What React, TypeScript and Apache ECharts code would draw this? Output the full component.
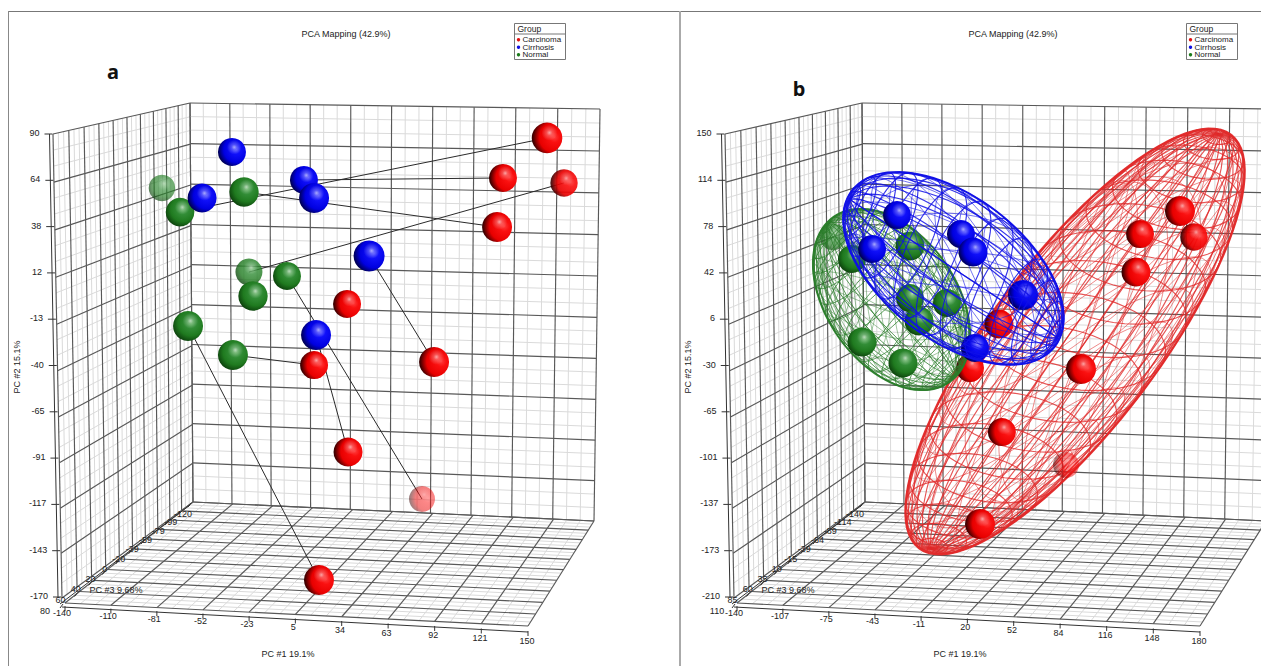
import React, { useEffect, useRef } from "react";
import * as echarts from "echarts";

// ---------- tick labels ----------
const TICKS_A = {
  pc1: ["-140", "-110", "-81", "-52", "-23", "5", "34", "63", "92", "121", "150"],
  pc2: ["90", "64", "38", "12", "-13", "-40", "-65", "-91", "-117", "-143", "-170"],
  pc3: ["80", "60", "40", "20", "0", "-20", "-39", "-59", "-79", "-99", "-120"],
};
const TICKS_B = {
  pc1: ["-140", "-107", "-75", "-43", "-11", "20", "52", "84", "116", "148", "180"],
  pc2: ["150", "114", "78", "42", "6", "-30", "-65", "-101", "-137", "-173", "-210"],
  pc3: ["110", "85", "60", "35", "10", "-15", "-39", "-64", "-89", "-114", "-140"],
};
const TITLE = "PCA Mapping (42.9%)";
const GROUPS = ["Carcinoma", "Cirrhosis", "Normal"];

// ---------- samples, panel a: [PC1, PC2, PC3] ----------
const A_BLUE = [[-110.1, 60.5, -40], [-58.8, 42.5, -40], [-51.6, 30.9, 40], [-131.4, 30.9, 0], [-12.4, -6.3, 80], [-50.2, -57.0, 40]];
const A_GREEN = [[-160.0, 37.4, -100], [-147.1, 21.9, -15], [-101.5, 34.8, 15], [-98.0, -16.6, -80], [-70.9, -19.1, -40], [-95.1, -32.0, 15], [-141.4, -51.2, 40], [-109.4, -69.9, 40]];
const A_RED = [[114.4, 69.5, 65], [83.0, 43.8, -40], [126.5, 40.6, -65], [78.8, 12.3, 40], [-28.1, -37.1, -40], [33.9, -74.4, 40], [-51.6, -76.3, -40], [-27.4, -132.1, 0], [25.3, -162.3, -120], [-48.1, -214.3, 40]];
// links between samples: [from, to]
const A_LINKS = [
  [A_GREEN[1], A_RED[0]], [A_BLUE[1], A_RED[1]], [A_GREEN[2], A_RED[3]], [A_GREEN[3], A_RED[2]],
  [A_GREEN[4], A_RED[8]], [A_BLUE[4], A_RED[5]], [A_GREEN[7], A_RED[6]], [A_BLUE[5], A_RED[7]], [A_GREEN[6], A_RED[9]],
];

// ---------- samples, panel b ----------
const B_RED = [[110, 56.7, 60], [78.6, 36.2, -40], [121, 33.6, -65], [75.4, 2.4, 10], [-32.3, -43.8, 10], [32.2, -83.8, 60], [-55.1, -82.9, -40], [-30, -139.8, -40], [20.4, -169.1, -140], [-47.2, -221.6, 60]];
const B_GREEN_BACK = [[-162.8, 33.6, -115]];
const B_GREEN_MID = [[-147.9, 14, -40], [-102.3, 25.6, 10], [-140, -59.8, 10], [-107.8, -78.4, 10]];
const B_GREEN_UNDER = [[-102.3, -20.7, -40], [-73.2, -25.1, -40], [-95.2, -41.1, 10]];
const B_BLUE_UNDER = [[-13.4, -18, 60], [-51.2, -65.1, -40]];
const B_BLUE_TOP = [[-112.5, 53.1, -40], [-62.2, 36.2, -40], [-52.7, 20.2, 10], [-132.1, 22.9, -40]];

// ellipsoid centres [PC1, PC2]
const RED_CENTRE = [27.5, -59.3];
const GREEN_CENTRE = [-116.8, -22];
const BLUE_CENTRE = [-68.1, 5.6];

// ---------- layout ----------
const W = 1261, H = 666, DX = 672;
type P = [number, number];
const GRID = { top: 106, width: 407, height: 405 };
const LEFT_A = 190;
const WALL_LEFT: P[] = [[53, 134], [190, 103], [193, 502], [62, 598]];
const WALL_BACK: P[] = [[190, 103], [600, 109], [594, 521], [193, 502]];
const FLOOR: P[] = [[193, 502], [594, 521], [528, 626], [65, 603]];

function homography(q: P[]) {
  const [[x0, y0], [x1, y1], [x2, y2], [x3, y3]] = q;
  const dx1 = x1 - x2, dx2 = x3 - x2, sx = x0 - x1 + x2 - x3;
  const dy1 = y1 - y2, dy2 = y3 - y2, sy = y0 - y1 + y2 - y3;
  const den = dx1 * dy2 - dx2 * dy1;
  const g = (sx * dy2 - dx2 * sy) / den, h = (dx1 * sy - sx * dy1) / den;
  const a = x1 - x0 + g * x1, b = x3 - x0 + h * x3, d = y1 - y0 + g * y1, e = y3 - y0 + h * y3;
  return (s: number, t: number): P => {
    const w = g * s + h * t + 1;
    return [(a * s + b * t + x0) / w, (d * s + e * t + y0) / w];
  };
}

const lerp = (a: number, b: number, t: number) => a + (b - a) * t;
const FONT = "'Liberation Sans', Arial, sans-serif";
const INK = "#222";

function line(a: P, b: P, stroke: string, lineWidth = 1, off = 0) {
  return { type: "line", silent: true, shape: { x1: a[0] + off, y1: a[1], x2: b[0] + off, y2: b[1] }, style: { stroke, lineWidth } };
}
function label(text: string, x: number, y: number, align = "center", size = 9, extra: any = {}) {
  return {
    type: "text", silent: true, x, y, ...extra,
    style: { text, fontSize: size, fontFamily: FONT, fill: INK, align, verticalAlign: "middle" },
  };
}

function wall(q: P[], off: number) {
  const map = homography(q);
  const minor: any[] = [], major: any[] = [];
  for (let i = 0; i <= 30; i++) {
    const u = i / 30;
    const isMajor = i % 3 === 0;
    const bag = isMajor ? major : minor;
    const col = isMajor ? "#585858" : "#dadada";
    const w = isMajor ? 1.15 : 1;
    bag.push(line(map(u, 0), map(u, 1), col, w, off));
    bag.push(line(map(0, u), map(1, u), col, w, off));
  }
  return [...minor, ...major];
}

function panelFrame(t: typeof TICKS_A, off: number, letter: string, lx: number, ly: number) {
  const els: any[] = [];
  els.push(...wall(WALL_LEFT, off), ...wall(WALL_BACK, off), ...wall(FLOOR, off));
  const floor = homography(FLOOR);
  // PC#2 axis
  const yTop: P = [49.5, 134], yBot: P = [58, 597];
  els.push(line(yTop, yBot, "#333", 1, off));
  t.pc2.forEach((s, i) => {
    const u = i / 10;
    const x = lerp(yTop[0], yBot[0], u), y = lerp(yTop[1], yBot[1], u);
    els.push(line([x - 5, y], [x + 3, y], "#333", 1, off));
    els.push(label(s, x - 10 + off, y - 1, "right"));
  });
  // PC#1 axis
  els.push(line([62, 607], [528, 632], "#333", 1, off));
  t.pc1.forEach((s, i) => {
    const u = i / 10;
    const p = floor(u, 1);
    const ay = lerp(607, 632, (p[0] - 62) / 466);
    els.push(line([p[0], ay - 1], [p[0], ay + 4], "#333", 1, off));
    els.push(label(s, p[0] + lerp(-3, -1, u) + off, p[1] + lerp(10, 15, u)));
  });
  // PC#3 axis
  els.push(line([60, 604], [190, 505], "#333", 1, off));
  t.pc3.forEach((s, i) => {
    const u = i / 10;
    const p = floor(0, 1 - u);
    const a: P = [p[0] - 2, p[1] + 1];
    els.push(line(a, [a[0] - 3, a[1] + 4], "#333", 1, off));
    els.push(label(s, p[0] + lerp(-20, -10, u) + off, p[1] + lerp(8, 12, u)));
  });
  // axis titles
  els.push(label("PC #1 19.1%", 288 + off, 654));
  els.push(label("PC #3 9.68%", 116 + off, 590));
  els.push(label("PC #2 15.1%", 17 + off - (off ? 1 : 0), 367, "center", 9, { rotation: Math.PI / 2 }));
  els.push(label(TITLE, 346 + off - (off ? 5 : 0), 34));
  els.push({
    type: "text", silent: true, x: lx, y: ly,
    style: { text: letter, fontSize: 20, fontWeight: "bold", fontFamily: "'Noto Sans', sans-serif", fill: "#111", align: "center", verticalAlign: "middle" },
  });
  // legend
  const bx = 514.5 + off;
  els.push({ type: "rect", silent: true, shape: { x: bx, y: 23.5, width: 51, height: 36 }, style: { fill: "#fff", stroke: "#777", lineWidth: 1 } });
  els.push(line([bx, 34], [bx + 51, 34], "#777"));
  els.push(label("Group", bx + 3, 28.5, "left", 8.5));
  ["#e01010", "#1010e0", "#1a7a1a"].forEach((c, i) => {
    const y = 39.8 + i * 7.5;
    els.push({ type: "circle", silent: true, shape: { cx: bx + 4, cy: y, r: 1.7 }, style: { fill: c } });
    els.push(label(GROUPS[i], bx + 8, y, "left", 8));
  });
  return els;
}

// ---------- spheres ----------
const STOPS: Record<string, string[]> = {
  red: ["#ff3a3a", "#fa1010", "#e80000", "#4a0000", "#050000"],
  blue: ["#3a3aff", "#1010fa", "#0000e0", "#000060", "#000020"],
  green: ["#4fa64f", "#35903a", "#1f7a1f", "#0f4a0f", "#052205"],
};
const SHAPE: Record<string, number[]> = {
  red: [0.74, 0.48, 0.84],
  blue: [0.66, 0.42, 0.78],
  green: [0.6, 0.4, 0.74],
};
function ball(hue: string) {
  const c = STOPS[hue], s = SHAPE[hue];
  return {
    type: "radial", x: s[0], y: s[1], r: s[2],
    colorStops: [
      { offset: 0, color: c[0] }, { offset: 0.2, color: c[1] }, { offset: 0.58, color: c[2] },
      { offset: 0.82, color: c[3] }, { offset: 1, color: c[4] },
    ],
  };
}
const SHEEN = {
  type: "radial", x: 0.58, y: 0.33, r: 0.26,
  colorStops: [
    { offset: 0, color: "rgba(255,255,255,0.62)" },
    { offset: 0.35, color: "rgba(255,255,255,0.28)" },
    { offset: 1, color: "rgba(255,255,255,0)" },
  ],
};
function spheres(points: number[][], hue: string, panel: number, range: [number, number], z: number) {
  const make = () => points.map((p) => {
    const f = (p[2] - range[0]) / (range[1] - range[0]);
    return {
      value: [p[0], p[1]],
      symbolSize: 2 * (13 + 2.5 * f),
      itemStyle: { opacity: Math.min(1, 0.5 + 1.5 * f) },
    };
  });
  const common = { type: "scatter", xAxisIndex: panel, yAxisIndex: panel, z, clip: false, silent: true };
  return [
    { ...common, itemStyle: { color: ball(hue), borderWidth: 0 }, data: make() },
    { ...common, itemStyle: { color: SHEEN, borderWidth: 0 }, data: make() },
  ];
}

// ---------- wireframes ----------
function cross(a: number[], b: number[]) {
  return [a[1] * b[2] - a[2] * b[1], a[2] * b[0] - a[0] * b[2], a[0] * b[1] - a[1] * b[0]];
}
function norm(a: number[]) {
  const l = Math.hypot(a[0], a[1], a[2]);
  return a.map((v) => v / l);
}
function sphereFamily(pole: number[], parallels: number, meridians: number) {
  const p = norm(pole);
  const e1 = norm(cross(p, Math.abs(p[2]) < 0.9 ? [0, 0, 1] : [0, 1, 0]));
  const e2 = cross(p, e1);
  const pt = (phi: number, lam: number) => {
    const s = Math.sin(phi), c = Math.cos(phi), cl = Math.cos(lam), sl = Math.sin(lam);
    return [s * cl * e1[0] + s * sl * e2[0] + c * p[0], s * cl * e1[1] + s * sl * e2[1] + c * p[1]];
  };
  const out: number[][][] = [];
  for (let i = 1; i < parallels; i++) {
    const phi = (Math.PI * i) / parallels, pts: number[][] = [];
    for (let k = 0; k <= 48; k++) pts.push(pt(phi, (2 * Math.PI * k) / 48));
    out.push(pts);
  }
  for (let j = 0; j < meridians; j++) {
    const lam = (2 * Math.PI * j) / meridians, pts: number[][] = [];
    for (let k = 0; k <= 32; k++) pts.push(pt((Math.PI * k) / 32, lam));
    out.push(pts);
  }
  return out;
}
function wire(centre: number[], a: number, b: number, deg: number, color: string, z: number, lw: number, alpha: number, par: number, mer: number, rimW: number) {
  const th = (deg * Math.PI) / 180, c = Math.cos(th), s = Math.sin(th);
  const primary = sphereFamily([0.97, 0.12, 0.2], par, mer);
  const secondary = sphereFamily([0.62, 0.62, 0.48], par, Math.round(mer * 0.7));
  return {
    type: "custom", xAxisIndex: 1, yAxisIndex: 1, z, silent: true, clip: false,
    data: [centre],
    renderItem: (_: any, api: any) => {
      const o = api.coord([api.value(0), api.value(1)]);
      const map = (u: number[]) => {
        const x = a * u[0], y = b * u[1];
        return [o[0] + x * c - y * s, o[1] - (x * s + y * c)];
      };
      const children: any[] = [];
      primary.forEach((pts) => children.push({
        type: "polyline", silent: true, shape: { points: pts.map(map) },
        style: { stroke: color, lineWidth: lw, opacity: alpha, fill: "none" },
      }));
      secondary.forEach((pts) => children.push({
        type: "polyline", silent: true, shape: { points: pts.map(map) },
        style: { stroke: color, lineWidth: lw * 0.85, opacity: alpha * 0.7, fill: "none" },
      }));
      const rim: number[][] = [];
      for (let k = 0; k <= 96; k++) rim.push(map([Math.cos((2 * Math.PI * k) / 96), Math.sin((2 * Math.PI * k) / 96)]));
      children.push({ type: "polyline", silent: true, shape: { points: rim }, style: { stroke: color, lineWidth: rimW, opacity: 0.95, fill: "none" } });
      return { type: "group", children };
    },
  };
}

export default function App() {
  const ref = useRef<HTMLDivElement>(null);
  useEffect(() => {
    document.body.style.margin = "0";
    const chart = echarts.init(ref.current!, undefined, { renderer: "svg" });
    const rangeA: [number, number] = [-120, 80];
    const rangeB: [number, number] = [-140, 110];
    const linkData = A_LINKS.map(([p, q]) => [p[0], p[1], q[0], q[1]]);
    chart.setOption({
      animation: false,
      backgroundColor: "#fff",
      grid: [
        { left: LEFT_A, top: GRID.top, width: GRID.width, height: GRID.height, outerBoundsMode: "none" },
        { left: LEFT_A + DX, top: GRID.top, width: GRID.width, height: GRID.height, outerBoundsMode: "none" },
      ],
      xAxis: [
        { type: "value", gridIndex: 0, min: -140, max: 150, show: false },
        { type: "value", gridIndex: 1, min: -140, max: 180, show: false },
      ],
      yAxis: [
        { type: "value", gridIndex: 0, min: -170, max: 90, show: false },
        { type: "value", gridIndex: 1, min: -210, max: 150, show: false },
      ],
      graphic: {
        elements: [
          line([8, 11.5], [W, 11.5], "#777"),
          line([8.5, 11], [8.5, H], "#888"),
          line([680, 11], [680, H], "#aaa", 2),
          ...panelFrame(TICKS_A, 0, "a", 113, 71),
          ...panelFrame(TICKS_B, DX, "b", 799, 88),
        ],
      },
      series: [
        {
          type: "custom", xAxisIndex: 0, yAxisIndex: 0, z: 3, silent: true, clip: false,
          data: linkData,
          renderItem: (_: any, api: any) => {
            const a = api.coord([api.value(0), api.value(1)]);
            const b = api.coord([api.value(2), api.value(3)]);
            return { type: "line", silent: true, shape: { x1: a[0], y1: a[1], x2: b[0], y2: b[1] }, style: { stroke: "#2a2a2a", lineWidth: 1 } };
          },
        },
        ...spheres(A_RED, "red", 0, rangeA, 4),
        ...spheres(A_GREEN, "green", 0, rangeA, 5),
        ...spheres(A_BLUE, "blue", 0, rangeA, 6),

        wire(RED_CENTRE, 259, 84, 53, "#e02a2a", 2, 1.15, 0.8, 20, 30, 2.2),
        ...spheres(B_RED, "red", 1, rangeB, 3),
        ...spheres(B_GREEN_BACK, "green", 1, rangeB, 3),
        wire(GREEN_CENTRE, 101, 65, -55, "#2a7d2a", 4, 0.95, 0.8, 18, 26, 1.8),
        ...spheres(B_GREEN_MID, "green", 1, rangeB, 5),
        ...spheres(B_GREEN_UNDER, "green", 1, rangeB, 5),
        ...spheres(B_BLUE_UNDER, "blue", 1, rangeB, 5),
        wire(BLUE_CENTRE, 128, 71.5, -37.6, "#1010e6", 6, 1.15, 0.85, 14, 20, 1.8),
        ...spheres(B_BLUE_TOP, "blue", 1, rangeB, 7),
      ],
    });
    return () => chart.dispose();
  }, []);
  return <div ref={ref} style={{ width: W, height: H }} />;
}
